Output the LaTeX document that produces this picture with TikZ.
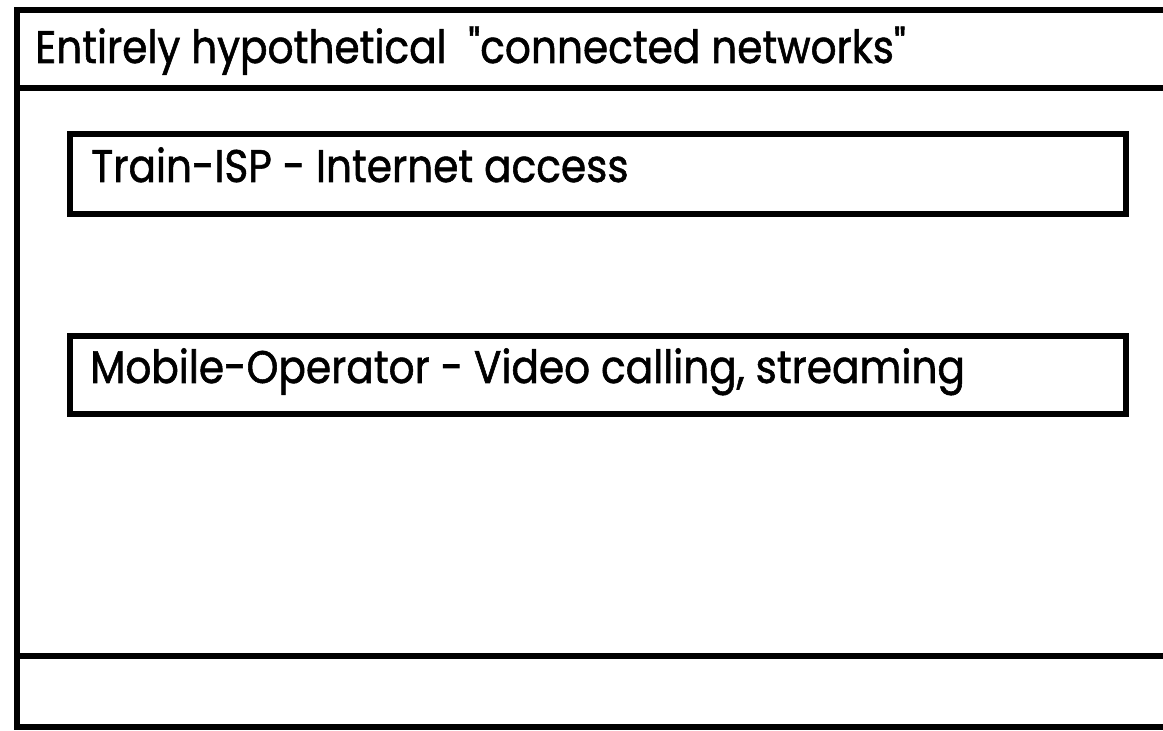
\documentclass[tikz,border=0pt]{standalone}
\usepackage{fontspec}
\newfontfamily\sketchfont[FakeStretch=0.89,FakeBold=1.2]{Poppins}

\begin{document}
\begin{tikzpicture}[
  frameline/.style={line width=3.5pt, black},
  netbox/.style={draw, line width=3.5pt, minimum width=21.12cm, inner sep=0pt, anchor=north west},
  netlabel/.style={anchor=base west, inner sep=0pt, font=\sketchfont\fontsize{26}{30}\selectfont}
]
\useasboundingbox (0,0) rectangle (23.26,14.62);

% outer window
\draw[frameline] (23.4,14.42)--(0.34,14.42)--(0.34,0.08)--(23.4,0.08);
\draw[frameline] (0.34,12.86)--(23.4,12.86);
\draw[frameline] (0.34,1.50)--(23.4,1.50);

 \node[netlabel] at (0.70,13.36) (title) {Entirely hypothetical\ \ "connected networks"};

% networks
 \node[netbox, minimum height=1.6cm] at (1.34,12.0) (isp) {};
 \node[netlabel] at (1.82,10.98) (isptext) {Train-ISP - Internet access};

 \node[netbox, minimum height=1.56cm] at (1.34,7.96) (mobile) {};
 \node[netlabel] at (1.80,6.96) (mobiletext) {Mobile-Operator - Video calling, streaming};

\end{tikzpicture}
\end{document}
